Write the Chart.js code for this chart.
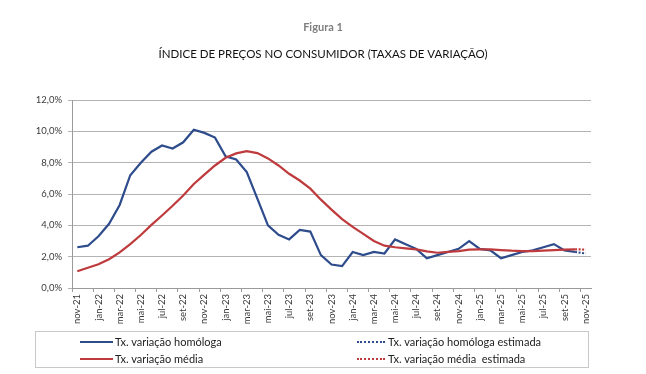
<!DOCTYPE html>
<html>
<head>
<meta charset="utf-8">
<script src="https://cdn.jsdelivr.net/npm/chart.js@4.4.1/dist/chart.umd.min.js"></script>
<style>
  body { margin: 0; background: #fff; }
  #wrap { position: relative; width: 646px; height: 374px; }
  #legend {
    position: absolute; left: 35px; top: 331px; width: 552px; height: 35px;
    border: 1px solid #c8c8c8; font-family: Lato, sans-serif; font-size: 11px; color: #222;
  }
  .item { position: absolute; height: 14px; line-height: 14px; white-space: pre; }
  .swatch { position: absolute; top: 6px; height: 0; }
  .label { position: absolute; top: 0; }
</style>
</head>
<body>
<div id="wrap">
  <canvas id="chart" width="646" height="374"></canvas>
  <div id="legend"></div>
</div>
<script>
const months = ['nov-21','dez-21','jan-22','fev-22','mar-22','abr-22','mai-22','jun-22','jul-22','ago-22','set-22','out-22',
  'nov-22','dez-22','jan-23','fev-23','mar-23','abr-23','mai-23','jun-23','jul-23','ago-23','set-23','out-23',
  'nov-23','dez-23','jan-24','fev-24','mar-24','abr-24','mai-24','jun-24','jul-24','ago-24','set-24','out-24',
  'nov-24','dez-24','jan-25','fev-25','mar-25','abr-25','mai-25','jun-25','jul-25','ago-25','set-25','out-25','nov-25'];

// taxa de variação homóloga (%)
const homologa = [2.6, 2.7, 3.3, 4.1, 5.3, 7.2, 8.0, 8.7, 9.1, 8.9, 9.3, 10.1,
  9.9, 9.6, 8.4, 8.2, 7.4, 5.7, 4.0, 3.4, 3.1, 3.7, 3.6, 2.1,
  1.5, 1.4, 2.3, 2.1, 2.3, 2.2, 3.1, 2.8, 2.5, 1.9, 2.1, 2.3,
  2.5, 3.0, 2.5, 2.4, 1.9, 2.1, 2.3, 2.4, 2.6, 2.8, 2.4, 2.3, null];

// taxa de variação média dos últimos 12 meses (%)
const media = [1.07, 1.29, 1.52, 1.84, 2.27, 2.8, 3.38, 4.03, 4.63, 5.25, 5.9, 6.64,
  7.24, 7.82, 8.31, 8.59, 8.74, 8.61, 8.27, 7.82, 7.29, 6.86, 6.34, 5.64,
  5.0, 4.4, 3.9, 3.45, 3.0, 2.7, 2.6, 2.53, 2.47, 2.34, 2.25, 2.3,
  2.35, 2.45, 2.47, 2.46, 2.42, 2.38, 2.36, 2.35, 2.38, 2.42, 2.45, 2.47, null];

// estimativas (último mês)
const homologaEst = months.map((m, i) => i === 47 ? 2.3 : i === 48 ? 2.2 : null);
const mediaEst = months.map((m, i) => i === 47 ? 2.47 : i === 48 ? 2.45 : null);

const yTicks = [0, 2, 4, 6, 8, 10, 12];

const BLUE = '#2e4c8c';
const RED = '#be3a3c';
const GRID = '#b4b4b4';
const AXIS = '#9a9a9a';

const datasets = [
  { label: 'Tx. variação homóloga', data: homologa, borderColor: BLUE, order: 2 },
  { label: 'Tx. variação média', data: media, borderColor: RED, order: 1 },
  { label: 'Tx. variação homóloga estimada', data: homologaEst, borderColor: BLUE, borderDash: [2, 1.5], order: 2 },
  { label: 'Tx. variação média  estimada', data: mediaEst, borderColor: RED, borderDash: [2, 1.5], order: 1 }
].map(d => Object.assign({ borderWidth: 2.2, pointRadius: 0, tension: 0, fill: false, spanGaps: false, yAxisID: 'y' }, d));

const chart = new Chart(document.getElementById('chart'), {
  type: 'line',
  data: { labels: months, datasets: datasets },
  options: {
    responsive: false,
    animation: false,
    layout: { padding: 0 },
    plugins: {
      legend: { display: false },
      tooltip: { enabled: false },
      title: {
        display: true, text: 'Figura 1', color: '#7f7f7f',
        font: { family: 'Lato', size: 11, weight: 'bold' },
        padding: { top: 21, bottom: 13 }
      },
      subtitle: {
        display: true, text: 'ÍNDICE DE PREÇOS NO CONSUMIDOR (TAXAS DE VARIAÇÃO)', color: '#111',
        font: { family: 'Lato', size: 11.5 },
        padding: { top: 0, bottom: 39 }
      }
    },
    scales: {
      x: {
        offset: true,
        afterFit: s => { s.height = 86; },
        grid: {
          offset: true, drawOnChartArea: false, tickLength: 4,
          tickColor: ctx => (ctx.index !== undefined && ctx.index % 2 === 0) ? AXIS : 'rgba(0,0,0,0)'
        },
        border: { color: AXIS },
        ticks: {
          autoSkip: false, minRotation: 90, maxRotation: 90, padding: 2,
          color: '#3a3a3a', font: { family: 'Lato', size: 9.5 },
          callback: function (v, i) { return i % 2 === 0 ? this.getLabelForValue(v) : ''; }
        }
      },
      y: {
        min: 0, max: 12,
        afterFit: s => { s.width = 72; },
        afterBuildTicks: s => { s.ticks = yTicks.map(v => ({ value: v })); },
        grid: { color: GRID, tickLength: 4 },
        border: { color: AXIS },
        ticks: {
          padding: 6, color: '#3a3a3a', font: { family: 'Lato', size: 9.5 },
          callback: v => v.toFixed(1).replace('.', ',') + '%'
        }
      },
      // eixo vazio à direita, só para reservar a margem
      y2: {
        position: 'right',
        afterFit: s => { s.width = 55; },
        grid: { drawOnChartArea: false, drawTicks: false },
        border: { display: false },
        ticks: { display: false }
      }
    }
  }
});

// legenda em duas colunas, como no original
const legendPos = [
  { left: 44, top: 3, solid: true },
  { left: 44, top: 20, solid: true },
  { left: 321, top: 3, solid: false },
  { left: 321, top: 20, solid: false }
];
const legend = document.getElementById('legend');
chart.data.datasets.forEach((d, i) => {
  const p = legendPos[i];
  const item = document.createElement('div');
  item.className = 'item';
  item.style.left = p.left + 'px';
  item.style.top = p.top + 'px';
  const sw = document.createElement('div');
  sw.className = 'swatch';
  sw.style.left = '0px';
  sw.style.width = (p.solid ? 33 : 28) + 'px';
  sw.style.borderTop = (p.solid ? '2.5px solid ' : '2px dotted ') + d.borderColor;
  const lb = document.createElement('div');
  lb.className = 'label';
  lb.style.left = (p.solid ? 35 : 31) + 'px';
  lb.textContent = d.label;
  item.appendChild(sw);
  item.appendChild(lb);
  legend.appendChild(item);
});
</script>
</body>
</html>
